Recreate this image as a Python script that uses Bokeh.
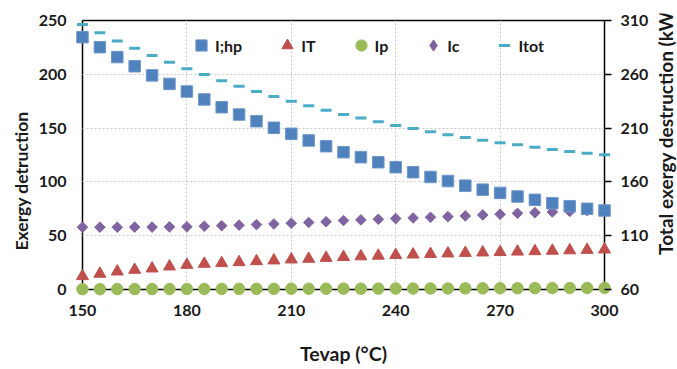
import math
from bokeh.plotting import figure
from bokeh.layouts import row
from bokeh.models import (Range1d, LinearAxis, FixedTicker, Legend, LegendItem,
                          Title, Grid, Label)
from bokeh.embed import file_html
from bokeh.resources import INLINE

tevap = [150, 155, 160, 165, 170, 175, 180, 185, 190, 195, 200, 205, 210, 215, 220,
         225, 230, 235, 240, 245, 250, 255, 260, 265, 270, 275, 280, 285, 290, 295, 300]
i_hp = [234.5, 225.2, 216.0, 207.5, 199.0, 191.1, 184.0, 176.6, 169.4, 162.6, 156.4,
        150.3, 144.7, 138.5, 133.2, 127.6, 123.0, 118.3, 113.7, 109.0, 104.6, 100.8,
        96.5, 92.8, 89.8, 86.4, 83.3, 80.2, 77.4, 75.0, 73.4]
i_t = [12.4, 14.6, 16.7, 18.3, 19.5, 21.4, 22.9, 23.9, 24.5, 25.4, 26.3, 27.0, 27.9,
       28.5, 29.4, 30.2, 30.8, 31.4, 32.0, 32.5, 33.0, 33.5, 34.0, 34.4, 34.8, 35.2,
       35.6, 36.0, 36.4, 36.8, 37.2]
i_p = [0.3, 0.3, 0.35, 0.4, 0.4, 0.45, 0.5, 0.5, 0.55, 0.6, 0.6, 0.65, 0.7, 0.7, 0.75,
       0.8, 0.8, 0.85, 0.9, 0.95, 1.0, 1.0, 1.05, 1.1, 1.15, 1.2, 1.25, 1.3, 1.35, 1.4, 1.5]
i_c = [57.9, 57.9, 57.9, 58.0, 58.0, 58.2, 58.3, 58.8, 59.3, 59.8, 60.3, 60.9, 61.6,
       62.3, 63.0, 64.1, 64.7, 65.3, 65.9, 66.5, 67.1, 67.7, 68.4, 69.3, 69.9, 70.8,
       71.4, 72.0, 72.6, 73.3, 73.6]
i_tot = [306.3, 298.5, 291.0, 284.3, 277.5, 271.2, 265.1, 259.8, 254.0, 249.0, 244.0,
         239.4, 235.0, 230.7, 226.6, 222.6, 219.5, 216.0, 212.4, 209.6, 206.5, 203.8,
         201.3, 198.7, 196.3, 194.5, 192.2, 190.1, 188.3, 186.7, 185.2]

x_ticks = [150, 180, 210, 240, 270, 300]
left_ticks = [0, 50, 100, 150, 200, 250]
right_ticks = [60, 110, 160, 210, 260, 310]

FONT = "Lato"
TXT = "#1a1a1a"

# layout (pixels): data area 82..606 x 20..289, padded so edge markers are not clipped
W, H, STRIP = 677, 369, 26
FW, FH, PAD = 524, 269, 7
X0, X1 = x_ticks[0], x_ticks[-1]
Y0, Y1 = left_ticks[0], left_ticks[-1]
R0, R1 = right_ticks[0], right_ticks[-1]
px_x = PAD * (X1 - X0) / FW
px_y = PAD * (Y1 - Y0) / FH
px_r = PAD * (R1 - R0) / FH

p = figure(width=W - STRIP, height=H, output_backend="svg", toolbar_location=None,
           x_range=Range1d(X0 - px_x, X1 + px_x), y_range=Range1d(Y0 - px_y, Y1 + px_y),
           min_border_left=82 - PAD, min_border_right=W - STRIP - 606 - PAD,
           min_border_top=20 - PAD, min_border_bottom=H - 289 - PAD)
p.extra_y_ranges = {"tot": Range1d(R0 - px_r, R1 + px_r)}
p.outline_line_color = None
p.background_fill_color = "white"
p.border_fill_color = "white"

def style_labels(ax):
    ax.axis_line_color = None
    ax.major_tick_line_color = "black"
    ax.major_tick_line_width = 1.5
    ax.minor_tick_line_color = None
    ax.major_tick_out = 0
    ax.major_tick_in = 0
    ax.major_label_text_font = FONT
    ax.major_label_text_font_style = "bold"
    ax.major_label_text_font_size = "16px"
    ax.major_label_text_color = TXT
    ax.axis_label_text_font = FONT
    ax.axis_label_text_font_style = "bold"
    ax.axis_label_text_font_size = "19.5px"
    ax.axis_label_text_color = TXT

xa = p.xaxis[0]
style_labels(xa)
xa.ticker = FixedTicker(ticks=x_ticks)
xa.major_label_standoff = 8
xa.axis_label = "Tevap (°C)"
xa.axis_label_standoff = 23

ya = p.yaxis[0]
style_labels(ya)
ya.ticker = FixedTicker(ticks=left_ticks)
ya.major_label_standoff = 9

ra = LinearAxis(y_range_name="tot", ticker=FixedTicker(ticks=right_ticks))
style_labels(ra)
ra.major_tick_in = PAD
ra.major_label_standoff = 9
p.add_layout(ra, "right")

# frame lines (drawn beneath the markers)
def frame_line(loc, bounds, side):
    ax = LinearAxis(ticker=FixedTicker(ticks=[]), fixed_location=loc, bounds=bounds,
                    axis_line_color="black", axis_line_width=1.5,
                    major_tick_out=0, major_tick_in=0, minor_tick_out=0,
                    minor_tick_in=0, level="underlay")
    p.add_layout(ax, side)

frame_line(Y0, (X0, X1), "below")
frame_line(Y1, (X0, X1), "above")
frame_line(X0, (Y0, Y1), "left")
frame_line(X1, (Y0, Y1), "right")

p.add_layout(Title(text="Exergy detruction", align="left", offset=46, standoff=7,
                   text_font=FONT, text_font_style="bold", text_font_size="17.5px",
                   text_color=TXT), "left")

p.xgrid.ticker = FixedTicker(ticks=x_ticks[1:-1])
p.ygrid.ticker = FixedTicker(ticks=left_ticks[1:-1])
has_cb = "cross_bounds" in Grid.properties()
for g, cb in ((p.xgrid[0], (Y0, Y1)), (p.ygrid[0], (X0, X1))):
    g.grid_line_color = "#c8c8c8"
    g.grid_line_dash = "2 2"
    g.grid_line_width = 1
    if has_cb:
        g.cross_bounds = cb

r_tot = p.scatter(tevap, i_tot, y_range_name="tot", marker="dash", size=11,
                  line_color="#4BACC6", line_width=3)
r_c = p.scatter(tevap, i_c, marker="square", angle=math.pi / 4, size=7.5,
                fill_color="#8064A2", line_color="#8064A2")
r_t = p.scatter(tevap, i_t, marker="triangle", size=12,
                fill_color="#C0504D", line_color="#C0504D")
r_hp = p.scatter(tevap, i_hp, marker="square", size=11.5,
                 fill_color="#4F81BD", line_color="#6E97CA")
r_p = p.scatter(tevap, i_p, marker="circle", size=11.5,
                fill_color="#9BBB59", line_color="#9BBB59")
# hidden twin of Ic, used only to draw the diamond key in the legend
r_c_key = p.scatter(tevap, i_c, marker="diamond", size=13,
                    fill_color="#8064A2", line_color="#8064A2", visible=False)

legend = Legend(items=[
    LegendItem(label="I;hp", renderers=[r_hp]),
    LegendItem(label="IT", renderers=[r_t]),
    LegendItem(label="Ip", renderers=[r_p]),
    LegendItem(label="Ic", renderers=[r_c_key]),
    LegendItem(label="Itot", renderers=[r_tot]),
], orientation="horizontal", location=(112, 237))
legend.glyph_width = 28
legend.glyph_height = 28
legend.label_standoff = -7
legend.label_width = 0
legend.spacing = 31
legend.padding = 0
legend.margin = 0
legend.border_line_color = None
legend.background_fill_alpha = 0
legend.inactive_fill_alpha = 0
legend.click_policy = "none"
legend.label_text_font = FONT
legend.label_text_font_style = "bold"
legend.label_text_font_size = "16px"
legend.label_text_color = TXT
p.add_layout(legend)

# narrow strip on the right holding the right-hand axis title (reads upward)
s = figure(width=STRIP, height=H, output_backend="svg", toolbar_location=None,
           x_range=Range1d(0, STRIP), y_range=Range1d(0, H),
           x_axis_type=None, y_axis_type=None, min_border=0)
s.min_border_left = s.min_border_right = s.min_border_top = s.min_border_bottom = 0
s.outline_line_color = None
s.grid.visible = False
s.background_fill_color = "white"
s.border_fill_color = "white"
s.add_layout(Label(x=STRIP / 2 + 1, y=H - 152.5, text="Total exergy destruction (kW)",
                   angle=math.pi / 2, text_align="center", text_baseline="middle",
                   text_font=FONT, text_font_style="bold", text_font_size="19px",
                   text_color=TXT))

layout = row(p, s, spacing=0)
open("out.html", "w").write(file_html(layout, INLINE))
